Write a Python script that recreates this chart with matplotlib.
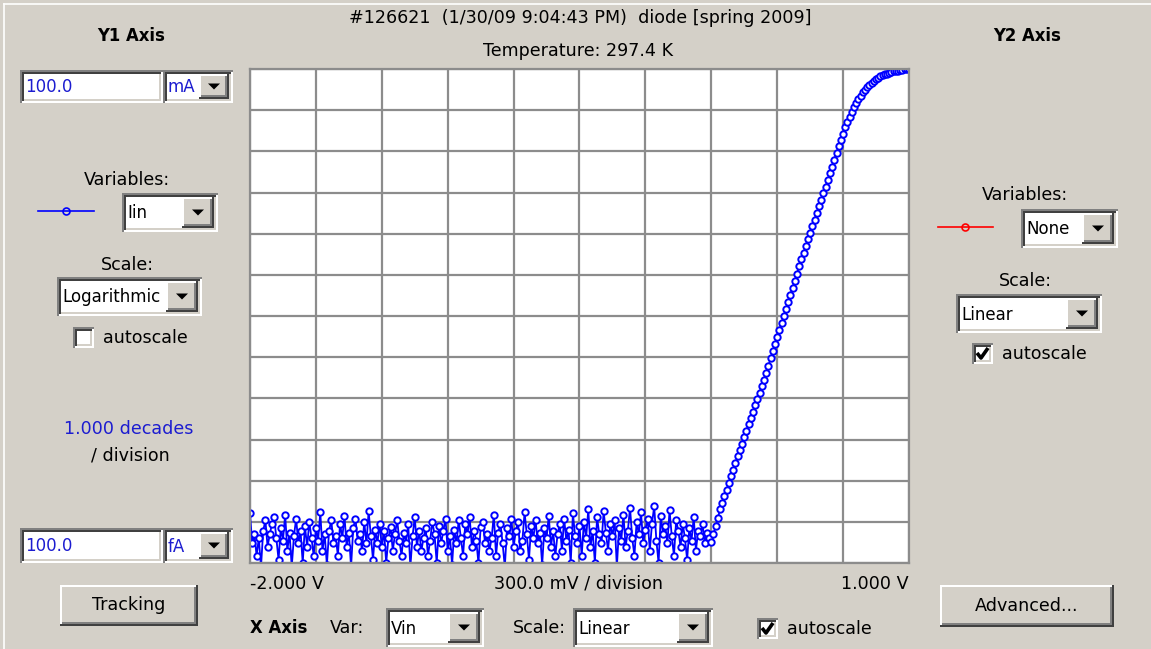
import numpy as np
import matplotlib
matplotlib.use("Agg")
import matplotlib.pyplot as plt
from matplotlib.patches import Rectangle, Polygon

W, H = 1151, 649

# Vin sweep: -2.000 V upward in 10 mV steps
vin_start = -2.0
vin_step = 0.01

noise_pA = [
    1.6, 0.3, 0.5, 0.15, 0.4, 0.08, 0.6, 1.1, 0.25, 0.5,
    0.9, 1.3, 0.4, 0.12, 0.7, 0.35, 1.5, 0.2, 0.55, 0.08,
    0.45, 1.2, 0.3, 0.6, 0.1, 0.8, 0.25, 1.0, 0.4, 0.15,
    0.7, 0.35, 1.7, 0.2, 0.5, 0.09, 0.6, 1.1, 0.3, 0.45,
    0.15, 0.9, 0.4, 1.4, 0.25, 0.55, 0.08, 0.7, 1.2, 0.35,
    0.5, 0.2, 1.0, 0.3, 1.8, 0.45, 0.12, 0.65, 0.3, 0.9,
    0.25, 0.6, 0.1, 0.4, 0.75, 0.2, 0.5, 1.1, 0.35, 0.15,
    0.55, 0.3, 0.9, 0.08, 0.45, 1.3, 0.25, 0.6, 0.2, 0.4,
    0.7, 0.15, 0.35, 1.0, 0.5, 0.1, 0.8, 0.3, 0.6, 1.2,
    0.2, 0.45, 0.09, 0.65, 0.3, 1.1, 0.4, 0.15, 0.9, 0.5,
    1.3, 0.25, 0.6, 0.35, 0.1, 0.75, 1.0, 0.3, 0.5, 0.2,
    0.4, 1.5, 0.15, 0.55, 0.9, 0.3, 0.08, 0.7, 0.45, 1.2,
    0.25, 0.6, 1.0, 0.2, 0.35, 1.7, 0.5, 0.12, 0.8, 0.4,
    1.1, 0.3, 0.55, 0.09, 0.7, 0.4, 1.4, 0.25, 0.6, 0.15,
    0.5, 0.9, 0.2, 1.2, 0.35, 0.65, 0.1, 1.6, 0.45, 0.3,
    0.8, 0.15, 1.0, 0.4, 2.0, 0.25, 0.6, 0.1, 1.3, 0.5,
    0.3, 1.8, 0.55, 0.2, 0.9, 0.45, 1.1, 0.08, 0.7, 0.35,
    1.5, 0.25, 0.6, 2.2, 0.4, 0.15, 1.0, 0.5, 1.7, 0.3,
    0.65, 1.2, 0.2, 0.9, 2.4, 0.35, 0.1, 1.4, 0.5, 0.8,
    0.3, 1.9, 0.45, 0.15, 1.1, 0.6, 0.25, 0.9, 0.4, 0.12,
    0.7, 0.35, 1.3, 0.2, 0.6, 0.45, 0.9, 0.3, 0.55, 0.4,
]

# forward rise, log10(Iin / A) (0.10 .. 1.00 V)
rise_log10 = [
    -12.50, -12.30, -12.10, -11.90, -11.70, -11.54, -11.38, -11.22, -11.06, -10.89,
    -10.73, -10.57, -10.41, -10.25, -10.10, -9.94, -9.79, -9.63, -9.48, -9.32,
    -9.17, -9.01, -8.86, -8.70, -8.55, -8.38, -8.21, -8.03, -7.86, -7.69,
    -7.52, -7.34, -7.17, -7.00, -6.83, -6.66, -6.48, -6.31, -6.14, -5.97,
    -5.79, -5.62, -5.46, -5.30, -5.14, -4.98, -4.82, -4.66, -4.50, -4.34,
    -4.18, -4.02, -3.86, -3.70, -3.53, -3.37, -3.20, -3.04, -2.88, -2.72,
    -2.57, -2.42, -2.28, -2.16, -2.04, -1.93, -1.83, -1.74, -1.65, -1.57,
    -1.50, -1.44, -1.38, -1.33, -1.28, -1.24, -1.21, -1.18, -1.15, -1.13,
    -1.11, -1.09, -1.07, -1.06, -1.05, -1.04, -1.03, -1.02, -1.01, -1.01,
    -1.00,
]

x_min, x_max, x_div = -2.0, 1.0, 10
y_min, y_max = 1e-13, 1e-1

title_1 = "#126621  (1/30/09 9:04:43 PM)  diode [spring 2009]"
title_2 = "Temperature: 297.4 K"

FACE = "#d4d0c8"
SHADOW = "#808080"
DARK = "#404040"
BLUE = "#1c1cd0"
FS = 12.6
FSB = 11.9
FS_FIELD = 12.0

iin = np.concatenate([np.array(noise_pA) * 1e-12, 10.0 ** np.array(rise_log10)])
vin = vin_start + vin_step * np.arange(len(iin))

plt.rcParams["font.family"] = ["DejaVu Sans"]

fig = plt.figure(figsize=(W / 100, H / 100), dpi=100, facecolor=FACE)
bg = fig.add_axes([0, 0, 1, 1])
bg.set_xlim(0, W)
bg.set_ylim(H, 0)
bg.axis("off")


def box(x, y, w, h, c):
    bg.add_patch(Rectangle((x, y), w, h, facecolor=c, edgecolor="none"))


def sunken(x, y, w, h, fill="white", t=2):
    box(x, y, w, h, SHADOW)
    box(x + t, y + t, w - t, h - t, "white")
    box(x + t, y + t, w - 2 * t, h - 2 * t, DARK)
    box(x + 2 * t, y + 2 * t, w - 3 * t, h - 3 * t, FACE)
    box(x + 2 * t, y + 2 * t, w - 4 * t, h - 4 * t, fill)


def raised(x, y, w, h, t=2):
    box(x, y, w, h, DARK)
    box(x, y, w - t, h - t, "white")
    box(x + t, y + t, w - 2 * t, h - 2 * t, SHADOW)
    box(x + t, y + t, w - 3 * t, h - 3 * t, FACE)


def label(x, y, s, ha="left", color="black", size=FS, weight="normal"):
    bg.text(x, y, s, ha=ha, va="center", color=color, fontsize=size,
            fontweight=weight)


def combo(x, y, w, h, text, bw=32, color="black"):
    sunken(x, y, w, h)
    raised(x + w - bw - 4, y + 4, bw, h - 8)
    cx, cy = x + w - 4 - bw / 2, y + h / 2
    bg.add_patch(Polygon([[cx - 6, cy - 3], [cx + 6, cy - 3], [cx, cy + 3]],
                         closed=True, facecolor="black", edgecolor="none"))
    label(x + 5, y + h / 2 + 1, text, color=color, size=FS_FIELD)


def checkbox(x, y, s, checked):
    sunken(x, y, 21, 21)
    if checked:
        bg.plot([x + 5, x + 9, x + 16], [y + 10, y + 15, y + 5],
                color="black", lw=2.6, solid_capstyle="butt")
    label(x + 30, y + 11, s)


def button(x, y, w, h, s):
    raised(x, y, w, h)
    label(x + w / 2, y + h / 2, s, ha="center")


def legend_line(x0, x1, y, c):
    bg.plot([x0, x1], [y, y], color=c, lw=1.2)
    bg.plot([(x0 + x1) / 2], [y], marker="o", ms=5, mfc="none", mec=c, mew=1.2)


# window frame highlight
bg.plot([4, 4], [4, H], color="white", lw=1.2)
bg.plot([4, W], [4, 4], color="white", lw=1.2)

# titles
label(580, 18, title_1, ha="center")
label(578, 51, title_2, ha="center")

# Y1 panel
label(131, 36, "Y1 Axis", ha="center", size=FSB, weight="bold")
sunken(20, 70, 143, 33)
label(25, 87, "100.0", color=BLUE, size=FS_FIELD)
combo(163, 70, 70, 33, "mA", bw=30, color=BLUE)
label(127, 180, "Variables:", ha="center")
legend_line(38, 94, 211, "#0000ff")
combo(122, 193, 96, 39, "Iin")
label(127, 265, "Scale:", ha="center")
combo(57, 277, 145, 39, "Logarithmic")
checkbox(73, 327, "autoscale", False)
label(129, 429, "1.000 decades", ha="center", color=BLUE)
label(130, 455, "/ division", ha="center")
sunken(20, 528, 143, 35)
label(25, 546, "100.0", color=BLUE, size=FS_FIELD)
combo(163, 528, 70, 35, "fA", bw=30, color=BLUE)
button(60, 585, 138, 41, "Tracking")

# Y2 panel
label(1027, 36, "Y2 Axis", ha="center", size=FSB, weight="bold")
label(1025, 195, "Variables:", ha="center")
legend_line(938, 993, 227, "#ff0000")
combo(1021, 209, 97, 39, "None")
label(1025, 281, "Scale:", ha="center")
combo(956, 294, 146, 39, "Linear")
checkbox(972, 343, "autoscale", True)
button(940, 585, 174, 42, "Advanced...")

# X axis controls
label(250, 584, "-2.000 V")
label(579, 584, "300.0 mV / division", ha="center")
label(909, 584, "1.000 V", ha="right")
label(250, 628, "X Axis", size=FSB, weight="bold")
label(330, 628, "Var:")
combo(386, 608, 98, 39, "Vin")
label(513, 628, "Scale:")
combo(573, 608, 140, 39, "Linear")
checkbox(757, 618, "autoscale", True)

# plot area
ax = fig.add_axes([250 / W, 1 - 563 / H, 659 / W, 494 / H])
ax.set_facecolor("white")
ax.set_xlim(x_min, x_max)
ax.set_yscale("log")
ax.set_ylim(y_min, y_max)
ax.set_xticks(np.linspace(x_min, x_max, x_div + 1))
ax.set_yticks(10.0 ** np.arange(-13, 0))
ax.yaxis.set_minor_locator(matplotlib.ticker.NullLocator())
ax.tick_params(length=0, labelbottom=False, labelleft=False)
ax.grid(True, color="#8c8c8c", lw=1.6)
ax.set_axisbelow(True)
for sp in ax.spines.values():
    sp.set_color("#8c8c8c")
    sp.set_linewidth(1.6)

ax.plot(vin, iin, color="#0000ff", lw=1.3, marker="o", ms=4.6,
        mfc="white", mec="#0000ff", mew=1.4)

fig.savefig("out.png", dpi=100, facecolor=FACE)
plt.close(fig)
